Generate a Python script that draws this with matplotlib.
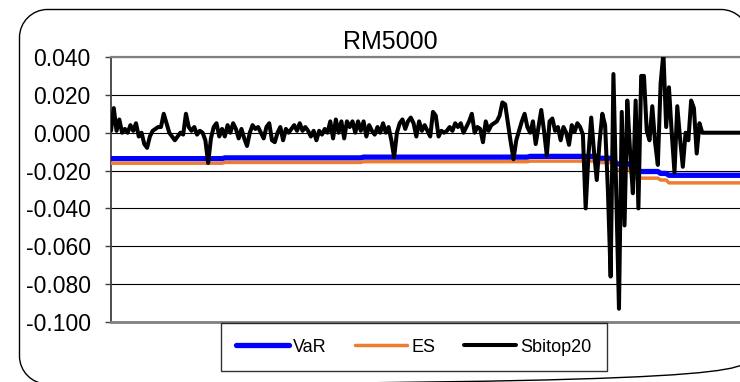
import numpy as np
import matplotlib
matplotlib.use("Agg")
import matplotlib.pyplot as plt
from matplotlib.path import Path
from matplotlib.patches import PathPatch
from matplotlib.transforms import IdentityTransform
from matplotlib.ticker import FormatStrFormatter

plt.rcParams['font.family'] = ['Liberation Sans', 'DejaVu Sans']
plt.rcParams['axes.unicode_minus'] = False

# ---- data -------------------------------------------------------------
title = "RM5000"
series_names = ["VaR", "ES", "Sbitop20"]
y_ticks = [-0.100, -0.080, -0.060, -0.040, -0.020, 0.000, 0.020, 0.040]

sbitop20 = [
    0.001, 0.013, 0.001, 0.007, 0.000, 0.002, 0.000, 0.004, 0.001, 0.005,
    -0.002, 0.000, -0.006, -0.008, -0.002, 0.001, 0.002, 0.003, 0.003, 0.010,
    0.005, 0.000, -0.002, -0.004, -0.002, 0.000, -0.001, 0.010, 0.003, 0.001,
    0.003, -0.001, 0.001, 0.000, -0.004, -0.016, -0.003, 0.003, 0.005, -0.002,
    0.002, -0.002, 0.004, 0.000, 0.005, 0.002, -0.003, 0.002, -0.003, -0.007,
    0.000, 0.004, 0.002, 0.003, 0.000, -0.003, 0.003, 0.005, -0.004, -0.005,
    0.000, 0.003, -0.004, 0.002, 0.000, 0.002, 0.004, 0.001, 0.005, 0.001,
    0.003, 0.001, -0.002, 0.001, -0.004, 0.001, -0.001, 0.002, 0.000, 0.006,
    -0.003, 0.007, 0.000, 0.006, -0.003, 0.006, 0.003, 0.006, 0.000, 0.006,
    0.001, 0.006, -0.002, 0.004, 0.001, -0.001, 0.003, 0.000, 0.005, 0.000,
    0.003, -0.004, -0.013, 0.000, 0.005, 0.007, 0.002, 0.006, 0.008, 0.005,
    -0.002, 0.006, 0.001, 0.004, 0.001, -0.002, 0.011, 0.009, -0.002, 0.001,
    0.000, 0.001, 0.003, 0.001, 0.005, 0.003, 0.005, 0.000, 0.003, 0.006,
    0.010, 0.000, 0.003,
    0.002, -0.005, 0.006, 0.001, 0.004, 0.005, 0.006, 0.009, 0.016, 0.015,
    0.005, -0.005, -0.014, -0.004, 0.001, 0.006, 0.010, 0.003, 0.000, 0.006,
    -0.006, 0.003, 0.012, 0.001, -0.012, 0.006, 0.0075, 0.001, 0.003, -0.004,
    0.003, 0.000, -0.0064, 0.004, 0.0005, 0.005, 0.003, -0.001,
    -0.040, -0.012, 0.008, -0.010, -0.025, -0.005, 0.010, 0.004, -0.030, -0.076,
    0.031, -0.030, -0.093, 0.011, -0.049, 0.017, -0.010, -0.032, 0.017, -0.040,
    0.030, 0.030, 0.001, -0.004, 0.014, -0.005, -0.017, 0.026, 0.042, 0.003,
    0.024, 0.000, -0.021, 0.014, -0.003, -0.018, 0.000, -0.004, 0.017, 0.013,
    -0.011, 0.005, 0.000,
    0.000, 0.000, 0.000, 0.000, 0.000, 0.000, 0.000, 0.000, 0.000, 0.000,
    0.000, 0.000, 0.000, 0.000, 0.000, 0.000, 0.000,
]

# VaR and ES move in flat stretches: level and number of days at that level
var_levels = [-0.0137, -0.0133, -0.0129, -0.0125, -0.0135, -0.0165, -0.0205, -0.0215, -0.0225]
var_counts = [41, 50, 60, 25, 6, 6, 10, 3, 30]
es_levels = [-0.0161, -0.0157, -0.0153, -0.0150, -0.0158, -0.0195, -0.0240, -0.0250, -0.0265]
es_counts = [41, 50, 60, 25, 6, 6, 10, 3, 30]

var = np.repeat(var_levels, var_counts)
es = np.repeat(es_levels, es_counts)
x = np.arange(len(sbitop20))
x_var = np.arange(len(var))

# ---- figure -----------------------------------------------------------
W, H = 740, 382
fig = plt.figure(figsize=(W / 100, H / 100), dpi=100)

# open rounded outline of the chart area (pixel units, y measured upward);
# only the left side, top and bottom are drawn, ending in the right corners
left, top, right, bottom, r = 19.5, H - 9.5, 749.0, H - 384.0, 28.0
k = 0.5523 * r
frame_path = Path(
    [(right, top - r),
     (right, top - r + k), (right - r + k, top), (right - r, top),
     (left + r, top),
     (left + r - k, top), (left, top - r + k), (left, top - r),
     (left, bottom + r),
     (left, bottom + r - k), (left + r - k, bottom), (left + r, bottom),
     (right - r, bottom),
     (right - r + k, bottom), (right, bottom + r - k), (right, bottom + r)],
    [Path.MOVETO,
     Path.CURVE4, Path.CURVE4, Path.CURVE4,
     Path.LINETO,
     Path.CURVE4, Path.CURVE4, Path.CURVE4,
     Path.LINETO,
     Path.CURVE4, Path.CURVE4, Path.CURVE4,
     Path.LINETO,
     Path.CURVE4, Path.CURVE4, Path.CURVE4])
frame = PathPatch(frame_path, transform=IdentityTransform(), facecolor='none',
                  edgecolor='black', linewidth=1.0, zorder=-1)
fig.patches.append(frame)

ax = fig.add_axes([111 / W, 1 - 322 / H, (W - 111) / W, 265 / H])
ax.set_facecolor('none')

l_var, = ax.plot(x_var, var, color='#0000FF', lw=3.8, solid_capstyle='round',
                 zorder=3)
l_es, = ax.plot(x_var, es, color='#ED7D31', lw=2.5, solid_capstyle='round',
                zorder=4)
l_sb, = ax.plot(x, sbitop20, color='black', lw=2.9, solid_joinstyle='round',
                solid_capstyle='round', zorder=5)

ax.set_xlim(0, 226.6)
ax.set_ylim(-0.100, 0.040)
ax.set_yticks(y_ticks)
ax.yaxis.set_major_formatter(FormatStrFormatter('%.3f'))
ax.set_xticks([])
ax.yaxis.grid(True, color='black', lw=0.8)
ax.set_axisbelow(True)

ax.spines['right'].set_visible(False)
ax.spines['left'].set_color('#404040')
ax.spines['left'].set_linewidth(1.3)
ax.spines['top'].set_color('#808080')
ax.spines['top'].set_linewidth(1.6)
ax.spines['bottom'].set_color('#808080')
ax.spines['bottom'].set_linewidth(2.0)
ax.tick_params(axis='y', direction='out', length=4.5, width=1.0,
               color='#404040', labelsize=16.5, pad=10, labelcolor='black')

fig.text(390 / W, 1 - 42 / H, title, ha='center', va='center', fontsize=18)

leg = fig.legend([l_var, l_es, l_sb], series_names, ncol=3, loc='center',
                 bbox_to_anchor=(414 / W, 1 - 347 / H), fontsize=13,
                 frameon=True, fancybox=False, edgecolor='black',
                 handlelength=2.9, handletextpad=0.25, columnspacing=1.55,
                 borderpad=0.85, borderaxespad=0)
leg.get_frame().set_linewidth(1.0)

fig.savefig("out.png", dpi=100)
